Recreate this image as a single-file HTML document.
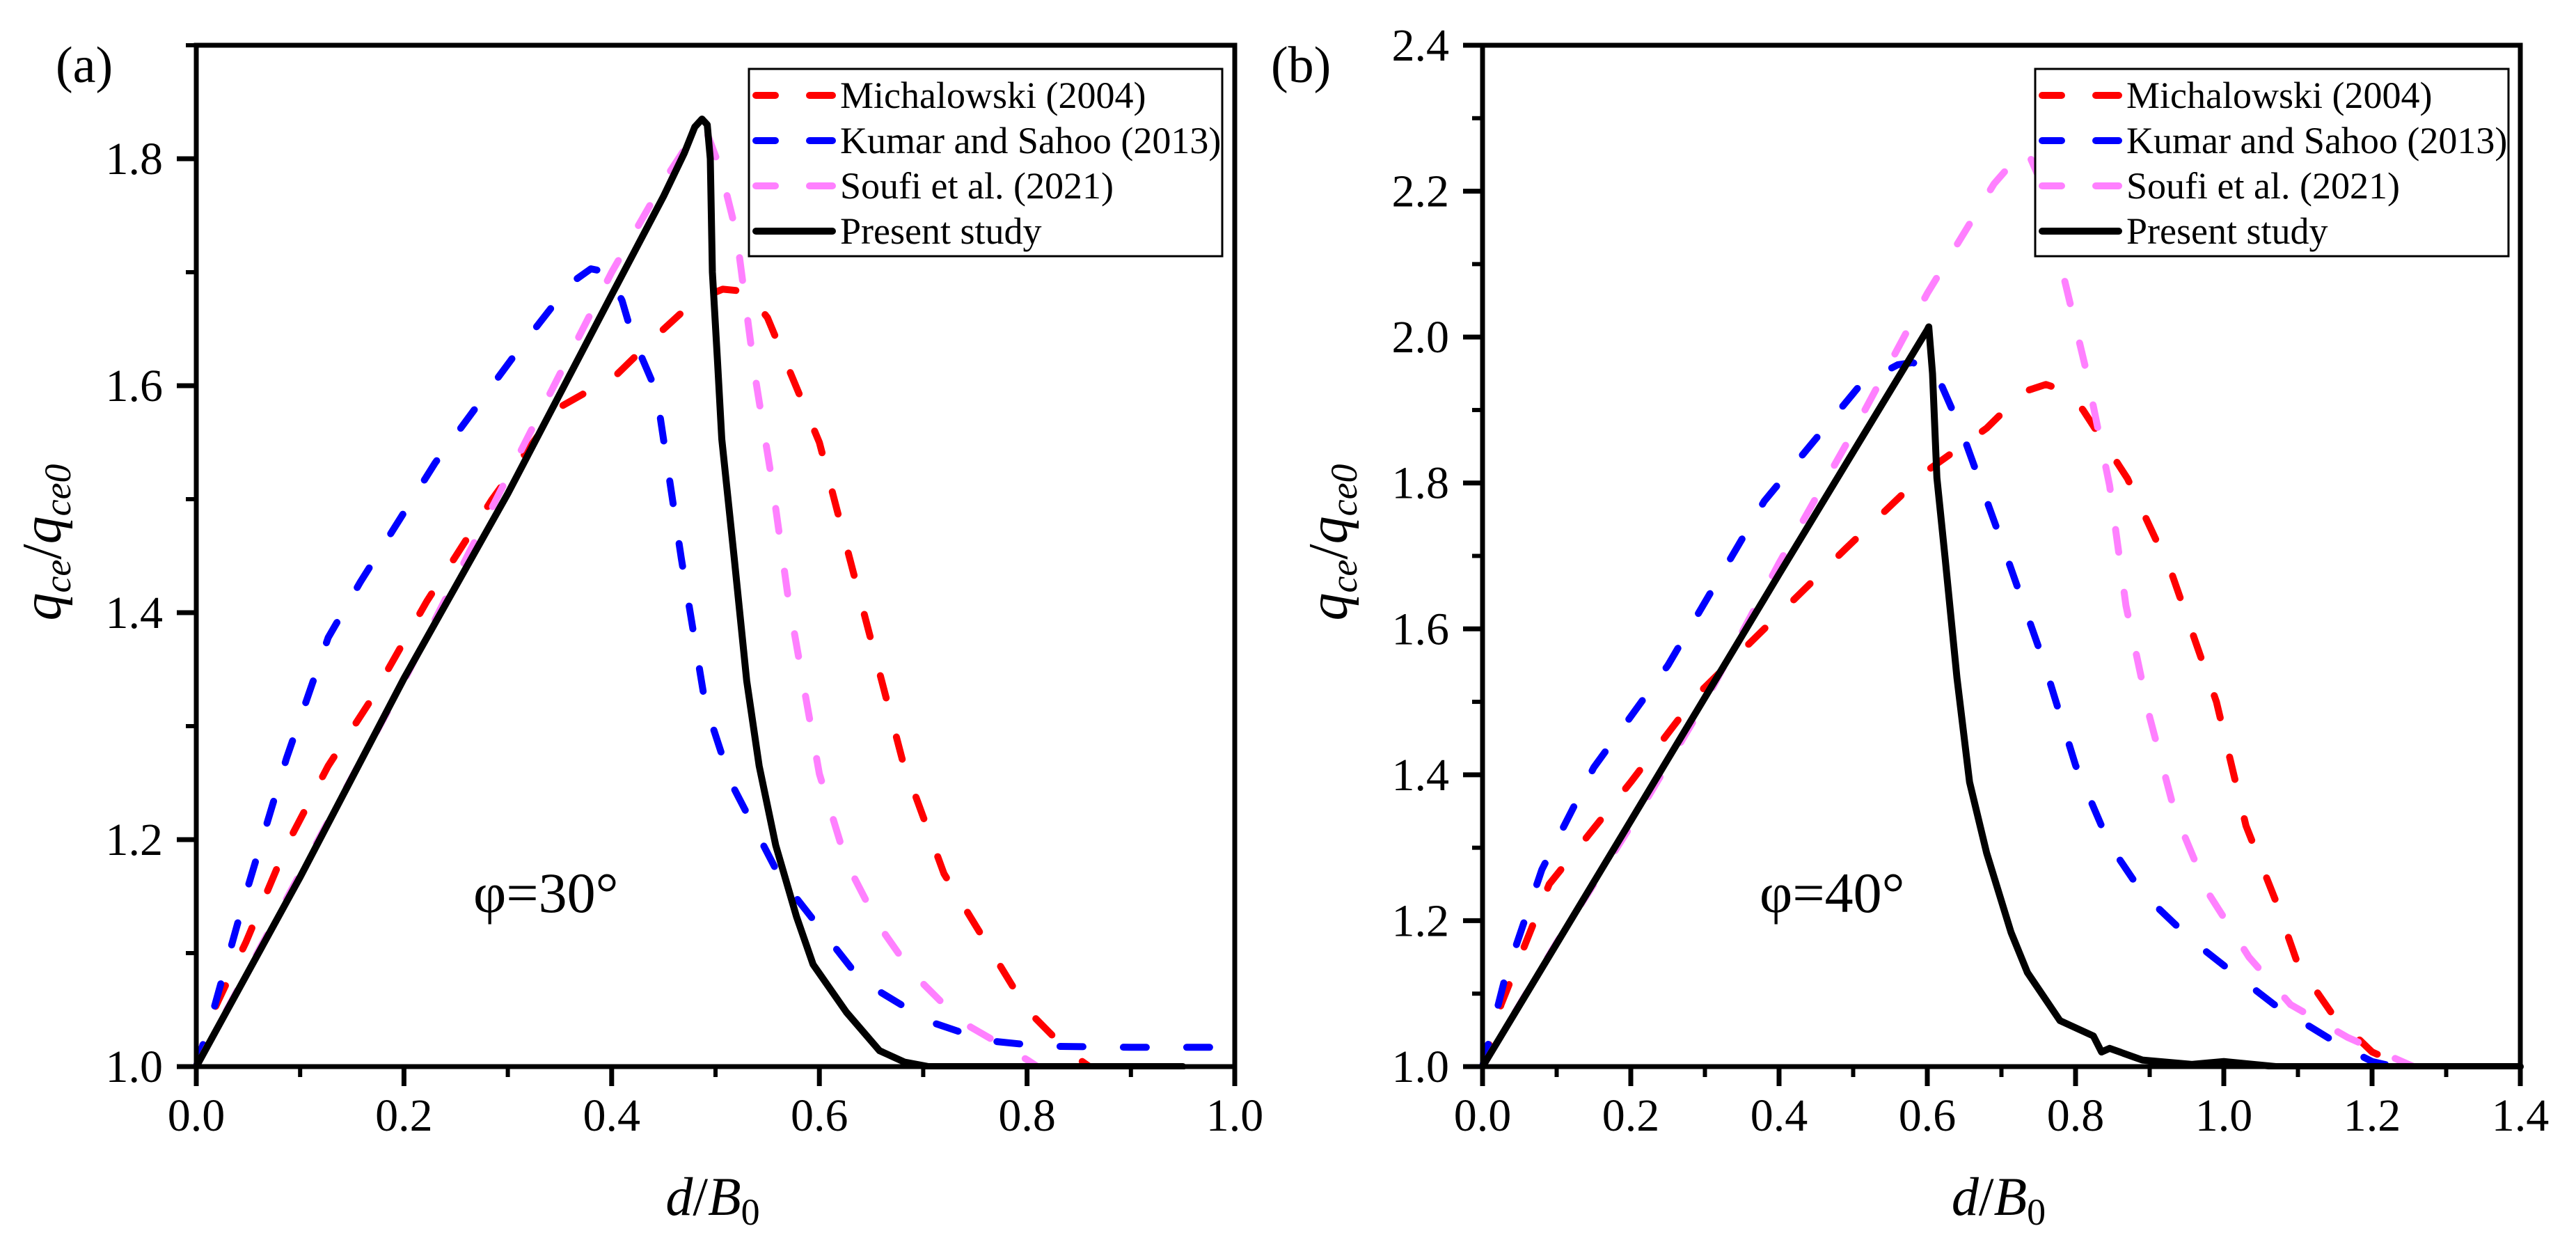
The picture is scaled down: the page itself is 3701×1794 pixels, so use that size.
<!DOCTYPE html>
<html><head><meta charset="utf-8"><title>q_ce/q_ce0 vs d/B0</title>
<style>
html,body{margin:0;padding:0;background:#fff;}
svg{display:block;font-family:"Liberation Serif","Times New Roman",serif;}
</style></head>
<body>
<svg id="chart" width="3701" height="1794" viewBox="0 0 3701 1794" xmlns="http://www.w3.org/2000/svg">
<rect x="0" y="0" width="3701" height="1794" fill="#fff"/>
<g id="panelA"></g>
<g id="panelB"></g>
</svg>
<script>
// ---------- Panel (a) data, φ=30° ----------
const aXTicks = [0.0, 0.2, 0.4, 0.6, 0.8, 1.0];
const aYTicks = [1.0, 1.2, 1.4, 1.6, 1.8];
const aMichX = [0,0.016,0.048,0.087,0.127,0.166,0.222,0.285,0.348,0.404,0.443,0.48,0.507,0.53,0.55,0.57,0.6,0.65,0.68,0.72,0.76,0.8,0.84,0.86];
const aMichY = [1.0,1.048,1.11,1.195,1.265,1.32,1.41,1.5,1.58,1.609,1.644,1.675,1.685,1.683,1.66,1.616,1.55,1.375,1.27,1.17,1.11,1.05,1.013,1.0];
const aKumX = [0,0.016,0.048,0.087,0.127,0.158,0.23,0.309,0.36,0.38,0.396,0.41,0.42,0.443,0.467,0.49,0.515,0.562,0.64,0.705,0.76,0.815,0.9,1.0];
const aKumY = [1.0,1.048,1.153,1.272,1.378,1.427,1.532,1.63,1.69,1.703,1.7,1.675,1.644,1.595,1.448,1.32,1.25,1.167,1.076,1.04,1.023,1.018,1.017,1.017];
const aSouX = [0,0.1,0.2,0.3,0.4,0.45,0.475,0.49,0.505,0.52,0.538,0.554,0.57,0.586,0.6,0.626,0.657,0.689,0.736,0.8,0.81];
const aSouY = [1.0,1.17,1.34,1.52,1.7,1.78,1.815,1.827,1.79,1.735,1.609,1.518,1.413,1.33,1.258,1.18,1.125,1.083,1.04,1.006,1.0];
const aPreX = [0,0.1,0.2,0.3,0.4,0.45,0.47,0.48,0.487,0.492,0.495,0.497,0.502,0.506,0.518,0.53,0.542,0.558,0.578,0.594,0.626,0.658,0.682,0.705,0.95];
const aPreY = [1.0,1.167,1.342,1.505,1.68,1.767,1.805,1.828,1.835,1.83,1.8,1.7,1.62,1.553,1.448,1.34,1.265,1.195,1.132,1.09,1.048,1.014,1.004,1.0,1.0];

// ---------- Panel (b) data, φ=40° ----------
const bXTicks = [0.0, 0.2, 0.4, 0.6, 0.8, 1.0, 1.2, 1.4];
const bYTicks = [1.0, 1.2, 1.4, 1.6, 1.8, 2.0, 2.2, 2.4];
const bMichX = [0,0.025,0.09,0.2,0.29,0.38,0.49,0.6,0.68,0.73,0.76,0.79,0.81,0.87,0.93,0.99,1.03,1.07,1.1,1.145,1.2,1.245];
const bMichY = [1.0,1.085,1.25,1.39,1.51,1.6,1.71,1.817,1.875,1.925,1.935,1.925,1.9,1.806,1.675,1.5,1.33,1.227,1.14,1.074,1.02,1.0];
const bKumX = [0,0.03,0.08,0.15,0.25,0.38,0.51,0.56,0.58,0.61,0.646,0.70,0.757,0.8,0.846,0.89,0.957,1.012,1.068,1.156,1.2,1.23];
const bKumY = [1.0,1.12,1.27,1.41,1.55,1.775,1.935,1.962,1.965,1.955,1.872,1.72,1.555,1.413,1.304,1.238,1.173,1.129,1.085,1.03,1.007,1.0];
const bSouX = [0,0.1,0.2,0.3,0.4,0.5,0.6,0.69,0.72,0.735,0.75,0.78,0.813,0.846,0.868,0.9,0.934,0.979,1.034,1.09,1.167,1.256];
const bSouY = [1.0,1.17,1.33,1.5,1.69,1.87,2.06,2.21,2.245,2.255,2.22,2.1,1.96,1.796,1.632,1.479,1.348,1.238,1.15,1.085,1.04,1.0];
const bPreX = [0,0.2,0.4,0.6,0.602,0.607,0.613,0.624,0.64,0.657,0.68,0.713,0.735,0.779,0.824,0.835,0.846,0.89,0.957,1.0,1.07,1.4];
const bPreY = [1.0,1.337,1.675,2.01,2.014,1.95,1.807,1.697,1.533,1.39,1.293,1.184,1.129,1.063,1.042,1.02,1.025,1.009,1.003,1.007,1.0,1.0];

const seriesNames = ["Michalowski (2004)", "Kumar and Sahoo (2013)", "Soufi et al. (2021)", "Present study"];
const seriesColors = ["#ff0000", "#0000ff", "#ff80ff", "#000000"];
const seriesDash = ["33 58", "33 58", "33 58", null];

const NS = "http://www.w3.org/2000/svg";
function el(tag, attrs, parent) {
  const e = document.createElementNS(NS, tag);
  for (const k in attrs) e.setAttribute(k, attrs[k]);
  parent.appendChild(e);
  return e;
}

function drawPanel(g, cfg) {
  const L = cfg.left, R = cfg.right, T = 65, B = 1532;
  const sx = v => L + (v - cfg.xmin) / (cfg.xmax - cfg.xmin) * (R - L);
  const sy = v => B - (v - cfg.ymin) / (cfg.ymax - cfg.ymin) * (B - T);

  const seriesX = cfg.xs, seriesY = cfg.ys;
  for (let s = 0; s < 4; s++) {
    let d = "";
    for (let i = 0; i < seriesX[s].length; i++) {
      d += (i ? "L" : "M") + sx(seriesX[s][i]).toFixed(1) + "," + sy(seriesY[s][i]).toFixed(1);
    }
    const p = el("path", {d: d, fill: "none", stroke: seriesColors[s], "stroke-width": 10,
      "stroke-linecap": "round", "stroke-linejoin": "round"}, g);
    if (seriesDash[s]) p.setAttribute("stroke-dasharray", seriesDash[s]);
    
    
  }
  const cov = el("rect", {x: L - 5, y: B + 4, width: R - L + 10, height: 40, fill: "#fff"}, g);
  
  

  const frame = el("rect", {x: L, y: T, width: R - L, height: B - T, fill: "none", stroke: "#000", "stroke-width": 7}, g);
  
  

  const xStep = cfg.xTicks[1] - cfg.xTicks[0];
  for (let i = 0; i < cfg.xTicks.length; i++) {
    const v = cfg.xTicks[i];
    const x = sx(v);
    const t = el("line", {x1: x, y1: B, x2: x, y2: B + 28, stroke: "#000", "stroke-width": 7}, g);
    
    
    const lb = el("text", {x: x, y: 1624, "font-size": 66, "text-anchor": "middle", fill: "#000"}, g);
    lb.textContent = v.toFixed(1);
    
    
    if (i < cfg.xTicks.length - 1) {
      const xm = sx(v + xStep / 2);
      const m = el("line", {x1: xm, y1: B, x2: xm, y2: B + 15, stroke: "#000", "stroke-width": 6}, g);
      
      
    }
  }
  const yStep = cfg.yTicks[1] - cfg.yTicks[0];
  for (let i = 0; i < cfg.yTicks.length; i++) {
    const v = cfg.yTicks[i];
    const y = sy(v);
    const t = el("line", {x1: L - 28, y1: y, x2: L, y2: y, stroke: "#000", "stroke-width": 7}, g);
    
    
    const lb = el("text", {x: L - 48, y: y + 22, "font-size": 66, "text-anchor": "end", fill: "#000"}, g);
    lb.textContent = v.toFixed(1);
    
    
    const vm = v + yStep / 2;
    if (vm < cfg.ymax + 1e-9) {
      const ym = sy(vm);
      const m = el("line", {x1: L - 15, y1: ym, x2: L, y2: ym, stroke: "#000", "stroke-width": 6}, g);
      
      
    }
  }

  const xt = el("text", {x: L + (R - L) / 2 - 4, y: 1745, "font-size": 78, "text-anchor": "middle", fill: "#000"}, g);
  xt.innerHTML = '<tspan font-style="italic">d</tspan>/<tspan font-style="italic">B</tspan><tspan font-size="54" dy="14">0</tspan>';
  
  

  const yt = el("text", {x: 0, y: 0, "font-size": 80, "text-anchor": "middle", fill: "#000",
    transform: "translate(" + (L - 195) + ",779) rotate(-90)"}, g);
  yt.innerHTML = '<tspan font-style="italic">q</tspan><tspan font-style="italic" font-size="54" dy="14">ce</tspan><tspan dy="-14">/</tspan><tspan font-style="italic">q</tspan><tspan font-style="italic" font-size="54" dy="14">ce0</tspan>';
  
  

  const pl = el("text", {x: cfg.labelX, y: 118, "font-size": 74, fill: "#000"}, g);
  pl.textContent = cfg.label;
  
  

  const ph = el("text", {x: L + 398, y: 1310, "font-size": 82, fill: "#000"}, g);
  ph.textContent = cfg.phi;
  
  

  const lx = L + 794, ly = 99;
  const lg = el("g", {}, g);
  
  
  const lbox = el("rect", {x: lx, y: ly, width: 680, height: 269, fill: "#fff", stroke: "#000", "stroke-width": 3}, lg);
  
  
  const rows = [137, 202, 267, 332];
  for (let s = 0; s < 4; s++) {
    const ent = el("g", {}, lg);
    
    
    if (seriesDash[s]) {
      const a = el("line", {x1: lx + 10, y1: rows[s], x2: lx + 38, y2: rows[s], stroke: seriesColors[s], "stroke-width": 10, "stroke-linecap": "round"}, ent);
      
      
      const b = el("line", {x1: lx + 87, y1: rows[s], x2: lx + 120, y2: rows[s], stroke: seriesColors[s], "stroke-width": 10, "stroke-linecap": "round"}, ent);
      
      
    } else {
      const a = el("line", {x1: lx + 10, y1: rows[s], x2: lx + 120, y2: rows[s], stroke: seriesColors[s], "stroke-width": 10, "stroke-linecap": "round"}, ent);
      
      
    }
    const tx = el("text", {x: lx + 131, y: rows[s] + 18, "font-size": 54, fill: "#000"}, ent);
    tx.textContent = seriesNames[s];
    
    
  }
}

drawPanel(document.getElementById("panelA"), {
  left: 282, right: 1774, xmin: 0, xmax: 1.0, ymin: 1.0, ymax: 1.9,
  xTicks: aXTicks, yTicks: aYTicks,
  xs: [aMichX, aKumX, aSouX, aPreX], ys: [aMichY, aKumY, aSouY, aPreY],
  label: "(a)", labelX: 80, phi: "φ=30°"
});
drawPanel(document.getElementById("panelB"), {
  left: 2130, right: 3621, xmin: 0, xmax: 1.4, ymin: 1.0, ymax: 2.4,
  xTicks: bXTicks, yTicks: bYTicks,
  xs: [bMichX, bKumX, bSouX, bPreX], ys: [bMichY, bKumY, bSouY, bPreY],
  label: "(b)", labelX: 1826, phi: "φ=40°"
});
</script>
</body></html>
